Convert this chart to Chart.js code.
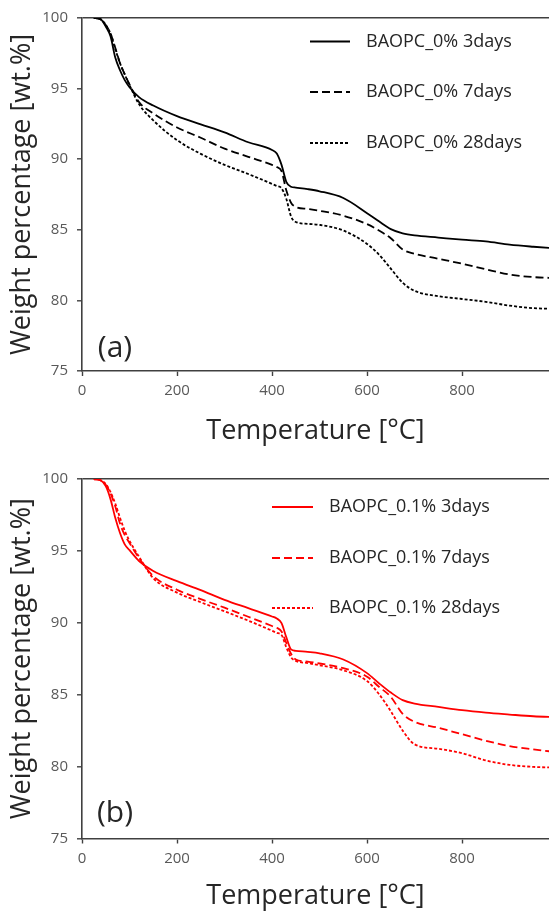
<!DOCTYPE html>
<html><head><meta charset="utf-8">
<script src="https://cdn.jsdelivr.net/npm/chart.js@4.4.1/dist/chart.umd.min.js"></script>
<style>
html,body{margin:0;padding:0;background:#fff;}
#wrap{position:relative;width:549px;height:916px;overflow:hidden;background:#fff;}
.panel{position:absolute;left:0;width:549px;height:458px;}
</style></head><body>
<div id="wrap">
<div class="panel" style="top:0"><canvas id="c1" width="549" height="458"></canvas></div>
<div class="panel" style="top:458px"><canvas id="c2" width="549" height="458"></canvas></div>
</div>
<script>
// ---- data ----
const temperature = [25, 40, 50, 60, 70, 80, 90, 100, 120, 150, 200, 250, 300, 350, 400, 410, 420, 430, 440, 450, 475, 500, 550, 600, 625, 650, 675, 700, 750, 800, 850, 900, 950, 1000];

const wt0_3days  = [100, 99.9, 99.4, 98.7, 97.2, 96.3, 95.6, 95.1, 94.4, 93.8, 93.05, 92.47, 91.9, 91.2, 90.65, 90.4, 89.6, 88.4, 88.05, 87.99, 87.88, 87.73, 87.25, 86.18, 85.6, 85.05, 84.75, 84.6, 84.45, 84.3, 84.18, 83.95, 83.8, 83.68];
const wt0_7days  = [100, 99.9, 99.5, 98.9, 97.9, 96.8, 96.0, 95.3, 94.05, 93.25, 92.25, 91.52, 90.75, 90.17, 89.6, 89.45, 89.15, 87.8, 86.92, 86.62, 86.48, 86.35, 86.0, 85.4, 84.95, 84.4, 83.6, 83.3, 82.95, 82.6, 82.2, 81.83, 81.65, 81.58];
const wt0_28days = [100, 99.9, 99.5, 98.9, 97.8, 96.8, 96.0, 95.25, 93.9, 92.75, 91.35, 90.38, 89.6, 88.95, 88.25, 88.1, 87.94, 87.2, 85.95, 85.55, 85.42, 85.35, 84.95, 84.0, 83.25, 82.25, 81.25, 80.68, 80.3, 80.1, 79.9, 79.63, 79.45, 79.4];

const wt01_3days  = [100, 99.9, 99.5, 98.6, 97.3, 96.24, 95.45, 95.05, 94.3, 93.6, 92.9, 92.27, 91.6, 91.02, 90.44, 90.3, 89.98, 89.0, 88.15, 88.05, 87.98, 87.88, 87.45, 86.5, 85.8, 85.15, 84.62, 84.38, 84.15, 83.92, 83.75, 83.62, 83.5, 83.43];
const wt01_7days  = [100, 99.9, 99.6, 99.0, 98.1, 96.9, 96.1, 95.55, 94.5, 93.25, 92.3, 91.65, 91.05, 90.42, 89.78, 89.65, 89.4, 88.6, 87.85, 87.45, 87.3, 87.17, 86.85, 86.25, 85.55, 84.85, 83.66, 83.12, 82.7, 82.25, 81.8, 81.43, 81.2, 81.0];
const wt01_28days = [100, 99.9, 99.65, 99.1, 98.3, 97.3, 96.4, 95.7, 94.6, 93.1, 92.1, 91.43, 90.8, 90.15, 89.45, 89.3, 89.15, 88.3, 87.6, 87.35, 87.2, 87.05, 86.7, 85.95, 85.05, 83.85, 82.5, 81.55, 81.24, 80.93, 80.43, 80.12, 79.98, 79.93];

const labelsTop    = ['BAOPC_0% 3days', 'BAOPC_0% 7days', 'BAOPC_0% 28days'];
const labelsBottom = ['BAOPC_0.1% 3days', 'BAOPC_0.1% 7days', 'BAOPC_0.1% 28days'];
const xTickValues = [0, 200, 400, 600, 800];
const yTickValues = [75, 80, 85, 90, 95, 100];

// ---- styling ----
Chart.defaults.font.family = "'Open Sans', 'Noto Sans', sans-serif";
const axisColor = '#404040';
const tickLabelColor = '#595959';
const titleColor = '#262626';
const dashes = [[], [8, 4], [3, 2]];

function pts(ys) { return temperature.map((t, i) => ({x: t, y: ys[i]})); }

function makeDatasets(series, labels, color) {
  return series.map((s, i) => ({
    label: labels[i],
    data: pts(s),
    borderColor: color,
    borderWidth: 1.8,
    borderDash: dashes[i],
    pointRadius: 0,
    fill: false,
    cubicInterpolationMode: 'monotone'
  }));
}

const overlayPlugin = {
  id: 'overlay',
  afterDraw(chart, args, o) {
    const ctx = chart.ctx;
    ctx.save();
    chart.data.datasets.forEach((ds, i) => {
      const y = o.rows[i];
      ctx.beginPath();
      ctx.setLineDash(ds.borderDash);
      ctx.strokeStyle = ds.borderColor;
      ctx.lineWidth = ds.borderWidth;
      ctx.moveTo(o.x1, y); ctx.lineTo(o.x2, y);
      ctx.stroke();
      ctx.setLineDash([]);
      ctx.fillStyle = titleColor;
      ctx.font = o.legendFont + "px 'Open Sans'";
      ctx.textAlign = 'left';
      ctx.textBaseline = 'middle';
      ctx.fillText(ds.label, o.tx, y);
    });
    ctx.fillStyle = titleColor;
    ctx.font = "30px 'Open Sans'";
    ctx.textAlign = 'center';
    ctx.textBaseline = 'middle';
    ctx.fillText(o.panel, o.px, o.py);
    ctx.restore();
  }
};

function makeChart(id, datasets, padTop, xHeight, titlePadBottom, overlay) {
  return new Chart(document.getElementById(id), {
    type: 'line',
    data: {datasets},
    plugins: [overlayPlugin],
    options: {
      responsive: false,
      animation: false,
      layout: {padding: {top: padTop, left: 0, right: 0, bottom: 0}},
      plugins: {legend: {display: false}, tooltip: {enabled: false}, overlay},
      scales: {
        x: {
          type: 'linear', min: 0, max: 983,
          afterBuildTicks: s => { s.ticks = xTickValues.map(v => ({value: v})); },
          afterFit: s => { s.height = xHeight; },
          border: {display: true, color: axisColor, width: 1.6},
          grid: {drawOnChartArea: false, drawTicks: true, tickColor: axisColor, tickLength: 5, tickWidth: 1.4},
          ticks: {color: tickLabelColor, font: {size: 15}, padding: 6, maxRotation: 0, autoSkip: false},
          title: {display: true, text: 'Temperature [°C]', color: titleColor, font: {size: 27}, padding: {top: 0, bottom: titlePadBottom}}
        },
        y: {
          min: 75, max: 100,
          afterBuildTicks: s => { s.ticks = yTickValues.map(v => ({value: v})); },
          afterFit: s => { s.width = 82; },
          border: {display: true, color: axisColor, width: 1.6},
          grid: {
            drawOnChartArea: true,
            color: c => (c.tick && c.tick.value === 100) ? axisColor : 'rgba(0,0,0,0)',
            lineWidth: 1.6,
            tickColor: axisColor, tickLength: 5, tickWidth: 1.4
          },
          ticks: {color: tickLabelColor, font: {size: 15}, padding: 9},
          title: {display: true, text: 'Weight percentage [wt.%]', color: titleColor, font: {size: 27}, padding: {top: 6, bottom: 0}}
        }
      }
    }
  });
}

makeChart('c1', makeDatasets([wt0_3days, wt0_7days, wt0_28days], labelsTop, '#000000'), 12, 87, 10,
  {rows: [41.5, 92, 143], x1: 310, x2: 350, tx: 366, legendFont: 18, panel: '(a)', px: 115, py: 348});
makeChart('c2', makeDatasets([wt01_3days, wt01_7days, wt01_28days], labelsBottom, '#ff0000'), 21, 77.5, 3,
  {rows: [49, 100, 150], x1: 272, x2: 313, tx: 329, legendFont: 18, panel: '(b)', px: 115, py: 355});
</script>
</body></html>
